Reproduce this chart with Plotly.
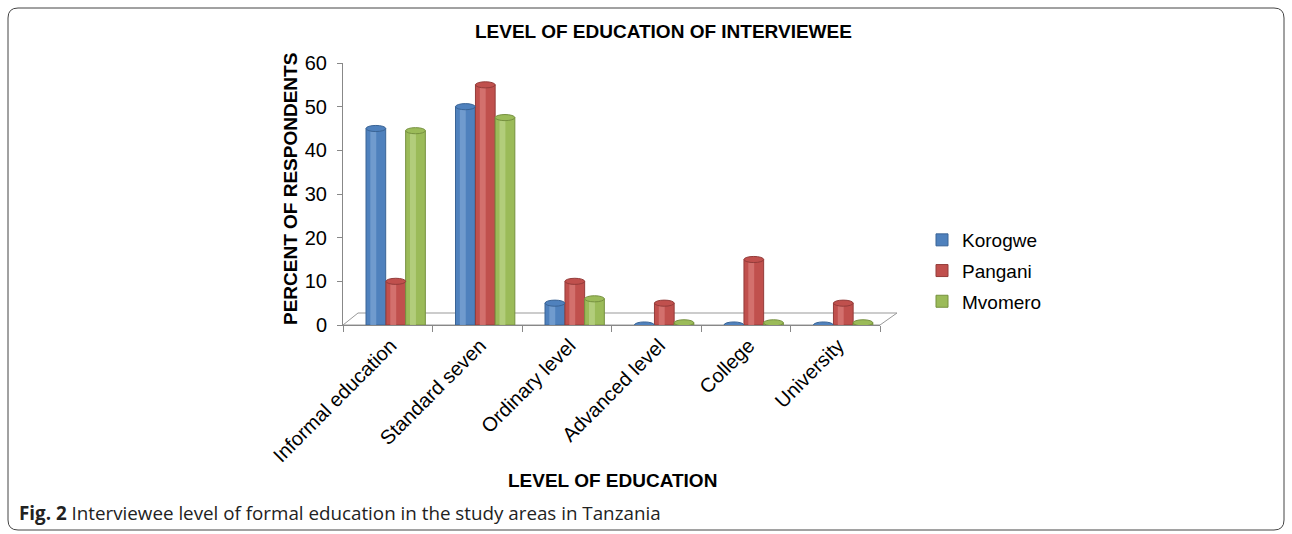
import plotly.graph_objects as go

# Survey results: percent of respondents by level of education
categories = ["Informal education", "Standard seven", "Ordinary level",
              "Advanced level", "College", "University"]
korogwe = [45, 50, 5, 0, 0, 0]
pangani = [10, 55, 10, 5, 15, 5]
mvomero = [44.5, 47.5, 6, 0.5, 0.5, 0.5]
y_ticks = [0, 10, 20, 30, 40, 50, 60]

series = [
    ("Korogwe", korogwe, "#4F81BD", "#3A6496", "#7FA6D6", -0.243),
    ("Pangani", pangani, "#C0504D", "#943C3A", "#DB7E7B", -0.02),
    ("Mvomero", mvomero, "#9BBB59", "#76913F", "#BCD48A", 0.2),
]

W, H = 1292, 534
L, R, T, B = 343, 412, 63, 209
PW, PH = W - L - R, H - T - B


def px(x):
    return (x - L) / PW


def py(y):
    return (H - B - y) / PH


fig = go.Figure()
bar_w = 0.22
cap = 0.7  # half-height of the elliptical cylinder cap, in data units
for name, vals, col, dark, light, off in series:
    fig.add_trace(go.Bar(
        name=name, x=categories, y=vals, width=bar_w, offset=off,
        marker=dict(color=col, line=dict(color=dark, width=1)),
        legendgroup=name,
    ))
    # lighter stripe for the rounded cylinder look
    fig.add_trace(go.Bar(
        x=categories, y=vals, width=bar_w * 0.3, offset=off + bar_w * 0.22,
        marker=dict(color=light, line=dict(width=0), opacity=0.7),
        showlegend=False, hoverinfo="skip",
    ))
    # elliptical top of each cylinder
    for i, v in enumerate(vals):
        fig.add_shape(type="circle", xref="x", yref="y",
                      x0=i + off, x1=i + off + bar_w,
                      y0=v - cap, y1=v + cap,
                      fillcolor=col, line=dict(color=dark, width=1))

fig.update_layout(
    width=W, height=H,
    margin=dict(l=L, r=R, t=T, b=B, pad=0),
    paper_bgcolor="white", plot_bgcolor="rgba(0,0,0,0)",
    barmode="overlay",
    font=dict(family="Liberation Sans, Arial, sans-serif", color="black"),
    showlegend=True,
    legend=dict(x=px(922), y=py(221), xanchor="left", yanchor="top",
                font=dict(size=19), tracegroupgap=3,
                bgcolor="rgba(0,0,0,0)"),
    xaxis=dict(
        type="category", tickangle=-45, tickfont=dict(size=20),
        showline=True, linecolor="#888888", linewidth=1,
        ticks="outside", ticklen=6, tickcolor="#888888",
        tickson="boundaries", ticklabelshift=3,
        showgrid=False, zeroline=False,
    ),
    yaxis=dict(
        range=[0, 60], tickvals=y_ticks, tickfont=dict(size=20),
        showline=True, linecolor="#888888", linewidth=1,
        ticks="outside", ticklen=5, tickcolor="#888888",
        ticklabelstandoff=6,
        showgrid=False, zeroline=False,
    ),
)

# Floor of the chart drawn as a thin slanted plane
fig.add_shape(type="path", xref="paper", yref="paper",
              path=(f"M {px(343)},{py(325)} L {px(880)},{py(325)} "
                    f"L {px(897)},{py(313)} L {px(358)},{py(313)} Z"),
              line=dict(color="#999999", width=1), fillcolor="rgba(0,0,0,0)",
              layer="below")

# Rounded frame around the figure
x0, x1, y0, y1, r = 8, 1284, 8, 530, 10
frame = (f"M {px(x0 + r)},{py(y0)} L {px(x1 - r)},{py(y0)} "
         f"Q {px(x1)},{py(y0)} {px(x1)},{py(y0 + r)} "
         f"L {px(x1)},{py(y1 - r)} Q {px(x1)},{py(y1)} {px(x1 - r)},{py(y1)} "
         f"L {px(x0 + r)},{py(y1)} Q {px(x0)},{py(y1)} {px(x0)},{py(y1 - r)} "
         f"L {px(x0)},{py(y0 + r)} Q {px(x0)},{py(y0)} {px(x0 + r)},{py(y0)} Z")
fig.add_shape(type="path", xref="paper", yref="paper", path=frame,
              line=dict(color="#444444", width=1), fillcolor="rgba(0,0,0,0)")

fig.add_annotation(text="<b>LEVEL OF EDUCATION OF INTERVIEWEE</b>",
                   xref="paper", yref="paper", x=px(663), y=py(32),
                   xanchor="center", yanchor="middle",
                   showarrow=False, font=dict(size=19))
fig.add_annotation(text="<b>PERCENT OF RESPONDENTS</b>",
                   xref="paper", yref="paper", x=px(290), y=py(189),
                   xanchor="center", yanchor="middle",
                   textangle=-90, showarrow=False, font=dict(size=19))
fig.add_annotation(text="<b>LEVEL OF EDUCATION</b>",
                   xref="paper", yref="paper", x=px(612), y=py(481),
                   xanchor="center", yanchor="middle",
                   showarrow=False, font=dict(size=19))
fig.add_annotation(text="<b>Fig. 2</b> Interviewee level of formal education in the study areas in Tanzania",
                   xref="paper", yref="paper", x=px(17), y=py(513),
                   xanchor="left", yanchor="middle", showarrow=False,
                   font=dict(size=18.8, family="Open Sans, sans-serif", color="#222222"))

fig.write_html("out.html")
